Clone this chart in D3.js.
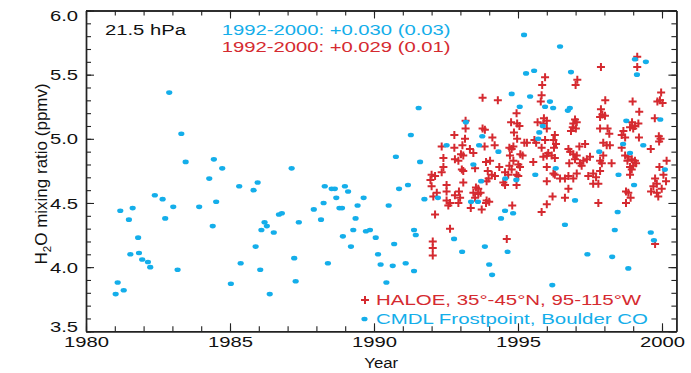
<!DOCTYPE html>
<html>
<head>
<meta charset="utf-8">
<script src="https://cdn.jsdelivr.net/npm/d3@7"></script>
<style>
  body { margin: 0; background: #fff; }
  text { font-family: "Liberation Sans", Arial, Helvetica, sans-serif; }
</style>
</head>
<body>
<div id="chart"></div>
<script>
// CMDL frostpoint hygrometer, Boulder CO
const cmdlYear = [
  1982.89, 1983.31, 1983.46, 1984.44, 1984.73, 1984.28, 1985.32, 1985.82, 1985.96, 1987.14,
  1982.39, 1982.66, 1983.03, 1982.75, 1981.19, 1981.62, 1981.49, 1981.81, 1981.54, 1981.84,
  1981.95, 1982.15, 1982.23, 1981.10, 1981.03, 1981.31, 1983.18, 1983.93, 1984.40, 1984.52,
  1985.03, 1985.37, 1985.89, 1986.05, 1986.20, 1986.09, 1986.28, 1986.52, 1986.38, 1986.70,
  1986.80, 1987.23, 1987.28, 1987.39, 1987.91, 1988.16, 1988.25, 1988.29, 1988.40, 1988.53,
  1988.64, 1988.69, 1988.80, 1988.89, 1988.92, 1988.99, 1989.10, 1989.20, 1989.28, 1989.36,
  1989.43, 1989.64, 1989.72, 1989.86, 1990.06, 1990.14, 1990.23, 1990.43, 1990.51, 1995.21,
  1996.46, 1999.06, 1999.44, 1999.13, 1995.28, 1995.56, 1996.84, 1994.78, 1995.42, 1996.11,
  1995.94, 1996.22, 1995.06, 1996.73, 1996.80, 1991.55, 1991.28, 1990.76, 1991.60, 1993.19,
  1993.76, 1992.52, 1993.65, 1994.32, 1995.86, 1995.74, 1995.70, 1998.76, 1999.94, 1998.65,
  1999.35, 1997.82, 1998.89, 1993.45, 1996.31, 1995.60, 1998.49, 2000.10, 1990.87, 1991.18,
  1991.75, 1992.22, 1993.72, 1994.56, 1994.94, 1993.37, 1993.61, 1999.03, 1996.98, 1994.55,
  1994.83, 1994.41, 1998.46, 1996.63, 1991.39, 1991.45, 1990.70, 1992.78, 1993.85, 1993.06,
  1994.64, 1998.36, 1999.61, 1999.72, 1990.65, 1991.10, 1991.39, 1994.00, 1994.10, 1997.41,
  1998.27, 1998.83, 1996.19
];
const cmdlH2O = [
  5.36, 5.04, 4.82, 4.84, 4.77, 4.69, 4.63, 4.60, 4.66, 4.77,
  4.56, 4.53, 4.47, 4.38, 4.44, 4.46, 4.37, 4.23, 4.10, 4.11,
  4.06, 4.04, 4.00, 3.88, 3.79, 3.82, 3.98, 4.47, 4.32, 4.51,
  3.87, 4.03, 4.16, 3.98, 4.35, 4.29, 4.32, 4.27, 3.79, 4.41,
  4.42, 4.07, 3.89, 4.35, 4.45, 4.37, 4.50, 4.63, 4.03, 4.61,
  4.61, 4.54, 4.46, 4.46, 4.24, 4.63, 4.59, 4.16, 4.29, 4.38,
  4.48, 4.54, 4.28, 4.29, 4.23, 4.10, 4.02, 3.88, 4.48, 5.81,
  5.72, 5.62, 5.60, 5.50, 5.51, 5.53, 5.52, 5.35, 5.33, 5.29,
  5.25, 5.24, 5.25, 5.22, 5.24, 5.24, 5.03, 4.86, 4.82, 5.13,
  5.02, 4.95, 4.95, 4.90, 5.10, 5.05, 5.00, 5.14, 5.15, 4.96,
  4.95, 4.90, 4.89, 4.80, 4.77, 4.72, 4.72, 4.76, 4.61, 4.64,
  4.53, 4.54, 4.67, 4.69, 4.68, 4.51, 4.51, 4.64, 4.52, 4.44,
  4.42, 4.38, 4.43, 4.33, 4.29, 4.25, 4.18, 4.22, 4.16, 4.12,
  4.12, 4.29, 4.27, 4.21, 4.01, 4.03, 3.97, 4.02, 3.94, 4.10,
  4.08, 3.99, 3.86
];

// HALOE, 35-45N, 95-115W
const haloeYear = [
  1995.94, 1995.84, 1993.77, 1994.30, 1995.82, 1995.79, 1994.95, 1994.76, 1994.97, 1995.05,
  1993.18, 1993.18, 1995.90, 1996.00, 1995.88, 1995.68, 1994.86, 1992.79, 1993.16, 1993.77,
  1993.85, 1994.11, 1994.97, 1995.22, 1995.31, 1995.57, 1995.63, 1995.94, 1992.35, 1992.79,
  1993.07, 1993.84, 1994.19, 1994.70, 1994.78, 1994.84, 1995.16, 1995.08, 1995.82, 1993.33,
  1993.45, 1993.02, 1993.10, 1992.41, 1992.81, 1992.93, 1994.72, 1994.84, 1995.88, 1996.00,
  1995.53, 1993.89, 1994.03, 1995.01, 1995.07, 1992.41, 1993.05, 1993.10, 1993.51, 1994.35,
  1994.70, 1994.78, 1993.95, 1994.09, 1994.20, 1996.00, 1992.00, 1992.12, 1992.35, 1994.55,
  1994.66, 1994.95, 1995.01, 1993.91, 1993.98, 1993.10, 1994.49, 1994.55, 1994.95, 1992.52,
  1992.00, 1993.54, 1993.62, 1996.00, 1992.18, 1992.52, 1992.95, 1993.45, 1993.70, 1992.06,
  1992.81, 1992.99, 1992.52, 1992.64, 1993.51, 1993.62, 1993.91, 1994.00, 1993.89, 1992.93,
  1992.58, 1994.80, 1996.00, 1993.36, 1993.74, 1995.82, 1992.12, 1992.64, 1994.61, 1992.04,
  1992.04, 1992.04, 1991.96,
  1999.14, 1999.14, 1997.88, 1997.06, 1997.00, 1998.03, 1998.98, 1999.97, 1999.93, 2000.02,
  1999.84, 1997.88, 1997.93, 1998.02, 1997.85, 1999.21, 1999.75, 1996.98, 1997.04, 1996.92,
  1996.90, 1997.01, 1996.84, 1996.00, 1998.96, 1998.89, 1999.06, 1999.18, 1999.00, 1997.85,
  1998.11, 1998.17, 1998.66, 1998.60, 1998.72, 1999.20, 1999.89, 1999.95, 1999.90, 1996.28,
  1996.23, 1996.32, 1996.25, 1997.33, 1997.13, 1997.96, 1998.08, 1998.19, 1998.60, 1999.61,
  1996.75, 1996.81, 1996.92, 1996.05, 1996.17, 1996.28, 1997.50, 1997.39, 1997.27, 1997.15,
  1997.21, 1997.96, 1997.85, 1997.91, 1998.25, 1996.98, 1997.04, 1996.78, 1998.72, 1998.83,
  1998.95, 1999.06, 1998.80, 1999.00, 1998.89, 1999.10, 2000.16, 1999.91, 2000.05, 2000.14,
  1999.76, 1999.82, 1999.70, 1999.62, 1999.82, 1999.99, 1999.87, 1996.23, 1996.28, 1996.46,
  1996.63, 1996.75, 1996.92, 1997.04, 1997.44, 1997.61, 1997.71, 1997.79, 1997.61, 1997.85,
  1996.75, 1996.63, 1996.20, 1998.89, 1998.95, 1998.75, 1998.83, 1998.91, 1998.75, 1997.79,
  1999.76
];
const haloeH2O = [
  5.48, 5.42, 5.32, 5.30, 5.34, 5.29, 5.20, 5.13, 5.12, 5.10,
  5.14, 5.08, 5.16, 5.14, 5.12, 5.13, 5.05, 5.03, 5.00, 5.08,
  5.07, 5.01, 5.00, 4.97, 4.97, 4.99, 4.97, 4.99, 4.94, 4.93,
  4.95, 4.94, 4.95, 4.93, 4.92, 4.94, 4.87, 4.88, 4.93, 4.92,
  4.89, 4.88, 4.87, 4.85, 4.84, 4.83, 4.87, 4.83, 4.86, 4.87,
  4.82, 4.82, 4.83, 4.80, 4.78, 4.78, 4.76, 4.75, 4.77, 4.78,
  4.79, 4.76, 4.75, 4.72, 4.71, 4.78, 4.72, 4.71, 4.74, 4.74,
  4.72, 4.72, 4.71, 4.67, 4.69, 4.66, 4.66, 4.64, 4.64, 4.64,
  4.63, 4.62, 4.61, 4.67, 4.58, 4.59, 4.59, 4.58, 4.58, 4.55,
  4.56, 4.54, 4.52, 4.50, 4.54, 4.57, 4.52, 4.51, 4.50, 4.50,
  4.48, 4.48, 4.49, 4.46, 4.45, 4.43, 4.41, 4.30, 4.22, 4.20,
  4.15, 4.09, 4.68,
  5.64, 5.56, 5.56, 5.46, 5.42, 5.30, 5.29, 5.36, 5.30, 5.28,
  5.29, 5.23, 5.19, 5.18, 5.17, 5.21, 5.16, 5.15, 5.13, 5.12,
  5.09, 5.08, 5.06, 5.08, 5.13, 5.09, 5.10, 5.12, 5.08, 5.08,
  5.08, 5.04, 5.06, 5.03, 5.01, 5.01, 5.02, 5.00, 4.98, 5.03,
  4.99, 4.96, 4.93, 4.96, 4.94, 4.97, 4.95, 4.95, 4.93, 4.92,
  4.92, 4.90, 4.88, 4.89, 4.87, 4.85, 4.86, 4.84, 4.83, 4.81,
  4.79, 4.87, 4.83, 4.81, 4.81, 4.84, 4.87, 4.81, 4.87, 4.86,
  4.84, 4.83, 4.83, 4.79, 4.78, 4.81, 4.83, 4.78, 4.72, 4.67,
  4.69, 4.65, 4.63, 4.59, 4.58, 4.61, 4.55, 4.73, 4.72, 4.69,
  4.69, 4.71, 4.69, 4.73, 4.71, 4.73, 4.70, 4.65, 4.65, 4.75,
  4.61, 4.54, 4.55, 4.72, 4.76, 4.59, 4.58, 4.54, 4.50, 4.50,
  4.18
];

const majorYears = [1980, 1985, 1990, 1995, 2000];
const minorYears = d3.range(1980, 2001, 1);
const majorH2O = [3.5, 4.0, 4.5, 5.0, 5.5, 6.0];
const minorH2O = d3.range(35, 61, 1).map(function (d) { return d / 10; });

const trendLabels = ["1992-2000: +0.030 (0.03)", "1992-2000: +0.029 (0.01)"];
const legendLabels = ["HALOE, 35\u00b0-45\u00b0N, 95-115\u00b0W", "CMDL Frostpoint, Boulder CO"];

const blue = "#14aeea";
const red = "#d52a30";
const sx = 1.35;   // the original lettering is wide

const width = 691, height = 373;
const margin = { top: 10.5, right: 14.6, bottom: 41.7, left: 86 };

const svg = d3.select("#chart").append("svg")
  .attr("width", width)
  .attr("height", height);

const x = d3.scaleLinear().domain([1980, 2000.5]).range([margin.left, width - margin.right]);
const y = d3.scaleLinear().domain([3.5, 6.0]).range([height - margin.bottom, margin.top]);

// axes on all four sides, ticks pointing inward
function styleAxis(g) {
  g.selectAll("path.domain").attr("stroke", "#222").attr("stroke-width", 1.4);
  g.selectAll(".tick line").attr("stroke", "#222").attr("stroke-width", 1.1);
}

const xBottom = svg.append("g").attr("transform", "translate(0," + y(3.5) + ")");
xBottom.call(d3.axisBottom(x).tickValues(minorYears).tickSize(-5).tickSizeOuter(0).tickFormat(""));
xBottom.append("g").call(d3.axisBottom(x).tickValues(majorYears).tickSize(-8).tickSizeOuter(0)
  .tickPadding(5).tickFormat(d3.format("d")));
styleAxis(xBottom);

const xTop = svg.append("g").attr("transform", "translate(0," + y(6.0) + ")");
xTop.call(d3.axisTop(x).tickValues(minorYears).tickSize(-5).tickSizeOuter(0).tickFormat(""));
xTop.append("g").call(d3.axisTop(x).tickValues(majorYears).tickSize(-8).tickSizeOuter(0).tickFormat(""));
styleAxis(xTop);

const yLeft = svg.append("g").attr("transform", "translate(" + x(1980) + ",0)");
yLeft.call(d3.axisLeft(y).tickValues(minorH2O).tickSize(-5).tickSizeOuter(0).tickFormat(""));
yLeft.append("g").call(d3.axisLeft(y).tickValues(majorH2O).tickSize(-8).tickSizeOuter(0)
  .tickPadding(8).tickFormat(d3.format(".1f")));
styleAxis(yLeft);

const yRight = svg.append("g").attr("transform", "translate(" + x(2000.5) + ",0)");
yRight.call(d3.axisRight(y).tickValues(minorH2O).tickSize(-5).tickSizeOuter(0).tickFormat(""));
yRight.append("g").call(d3.axisRight(y).tickValues(majorH2O).tickSize(-8).tickSizeOuter(0).tickFormat(""));
styleAxis(yRight);

// tick labels
svg.selectAll(".tick text")
  .attr("fill", "#111")
  .style("font-size", "15px")
  .style("font-family", "'Liberation Sans', Arial, sans-serif");
yLeft.selectAll(".tick text")
  .attr("x", -8 / sx)
  .attr("transform", "scale(" + sx + ",1)")
  .attr("dy", function (d) {
    // end labels are kept inside the frame
    if (d === 3.5) return "0em";
    if (d === 6.0) return "0.68em";
    return "0.34em";
  });
xBottom.selectAll(".tick text")
  .attr("transform", "scale(" + sx + ",1)");

// stretched text helper
function label(txt, px, py, size, color, anchor, stretch) {
  svg.append("text")
    .attr("transform", "translate(" + px + "," + py + ") scale(" + stretch + ",1)")
    .attr("text-anchor", anchor)
    .attr("fill", color)
    .style("font-size", size + "px")
    .text(txt);
}

// axis titles
label("Year", (x(1980) + x(2000.5)) / 2, 367.5, 15, "#111", "middle", 1.12);

const yTitle = svg.append("text")
  .attr("transform", "translate(46.5," + ((y(3.5) + y(6.0)) / 2 + 3) + ") rotate(-90)")
  .attr("text-anchor", "middle")
  .attr("fill", "#111")
  .style("font-size", "17px");
yTitle.append("tspan").text("H");
yTitle.append("tspan").text("2").style("font-size", "11.5px").attr("dy", 4);
yTitle.append("tspan").text("O mixing ratio (ppmv)").attr("dy", -4);

// annotations
label("21.5 hPa", 105, 34.5, 15, "#111", "start", sx);
label(trendLabels[0], 221.7, 34.5, 15, blue, "start", sx);
label(trendLabels[1], 221.7, 51.5, 15, red, "start", sx);

// HALOE crosses
const haloe = haloeYear.map(function (d, i) { return { x: d, y: haloeH2O[i] }; });
const cross = "M-4,0H4M0,-4V4";
svg.append("g").selectAll("path")
  .data(haloe)
  .enter().append("path")
  .attr("d", cross)
  .attr("transform", function (d) { return "translate(" + x(d.x) + "," + y(d.y) + ")"; })
  .attr("stroke", red)
  .attr("stroke-width", 2)
  .attr("fill", "none");

// CMDL dots
const cmdl = cmdlYear.map(function (d, i) { return { x: d, y: cmdlH2O[i] }; });
svg.append("g").selectAll("ellipse")
  .data(cmdl)
  .enter().append("ellipse")
  .attr("cx", function (d) { return x(d.x); })
  .attr("cy", function (d) { return y(d.y); })
  .attr("rx", 3.1)
  .attr("ry", 2.3)
  .attr("fill", blue);

// legend
svg.append("path")
  .attr("d", cross)
  .attr("transform", "translate(365,300)")
  .attr("stroke", red)
  .attr("stroke-width", 2);
label(legendLabels[0], 376, 305, 15.5, red, "start", 1.32);

svg.append("ellipse")
  .attr("cx", 364.5).attr("cy", 319)
  .attr("rx", 3.1).attr("ry", 2.3)
  .attr("fill", blue);
label(legendLabels[1], 376, 324, 15.5, blue, "start", 1.32);
</script>
</body>
</html>
